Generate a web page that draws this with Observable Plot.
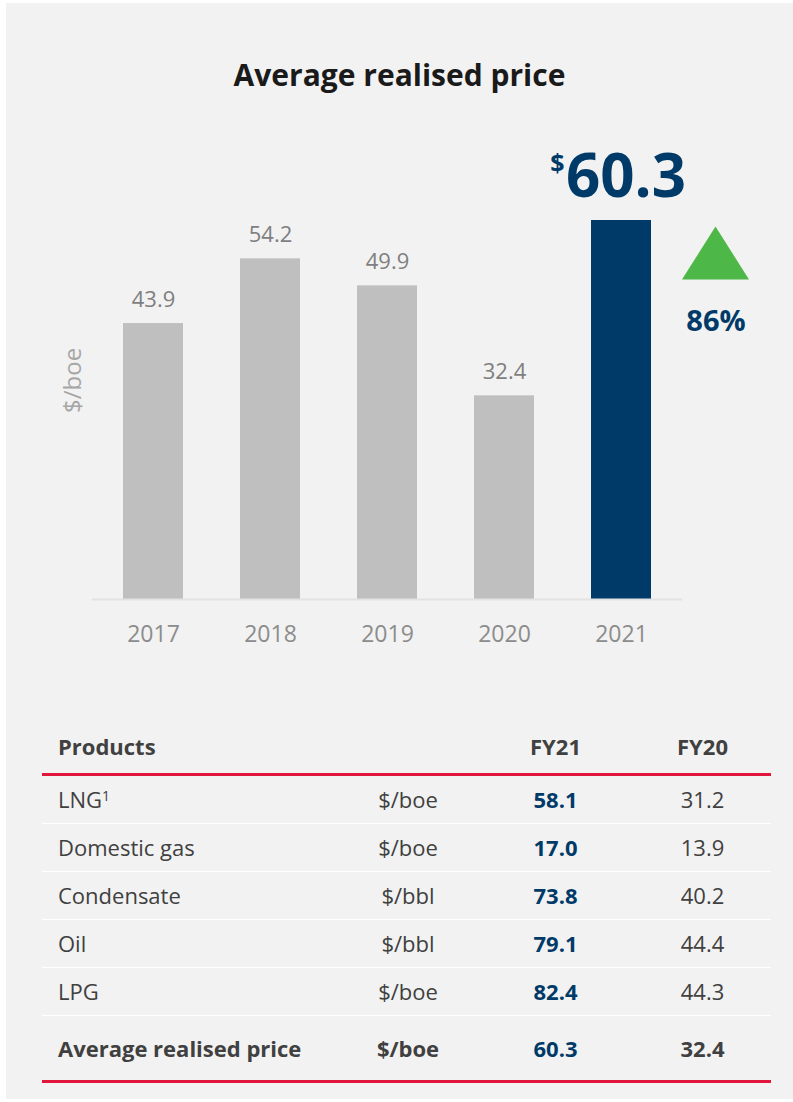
<!DOCTYPE html>
<html>
<head>
<meta charset="utf-8">
<script src="https://cdn.jsdelivr.net/npm/d3@7"></script>
<script src="https://cdn.jsdelivr.net/npm/@observablehq/plot@0.6"></script>
<style>
  html, body { margin: 0; padding: 0; background: #ffffff; }
  body { width: 793px; height: 1102px; position: relative; overflow: hidden; font-family: "Open Sans", sans-serif; }
  #panel { position: absolute; left: 6px; top: 3px; width: 787px; height: 1096px; background: #f2f2f2; }
  #title { position: absolute; left: 6px; top: 60px; width: 787px; text-align: center; font-size: 30px; line-height: 30px; font-weight: 700; color: #1a1a1a; }
  #chart { position: absolute; left: 6px; top: 100px; }
  .row { position: absolute; left: 42px; width: 736px; display: flex; align-items: center; font-size: 22px; color: #404040; }
  .row div { white-space: nowrap; }
  .c1 { width: 274px; padding-left: 16px; text-align: left; }
  .c2 { width: 152px; text-align: center; }
  .c3 { width: 143px; text-align: center; }
  .c4 { width: 151px; text-align: center; }
  .line { position: absolute; left: 42px; width: 729px; }
  sup { font-size: 14px; vertical-align: top; position: relative; top: -4px; }
</style>
</head>
<body>
<div id="panel"></div>
<div id="title">Average realised price</div>
<div id="chart"></div>
<div id="table"></div>
<script>
// ---- Chart data ----
const years = ["2017", "2018", "2019", "2020", "2021"];
const prices = [43.9, 54.2, 49.9, 32.4, 60.3];
const yLabel = "$/boe";

// ---- Table data ----
const products = ["LNG", "Domestic gas", "Condensate", "Oil", "LPG"];
const footnotes = ["1", "", "", "", ""];
const units = ["$/boe", "$/boe", "$/bbl", "$/bbl", "$/boe"];
const fy21 = [58.1, 17.0, 73.8, 79.1, 82.4];
const fy20 = [31.2, 13.9, 40.2, 44.4, 44.3];
const headers = ["Products", "", "FY21", "FY20"];
const totalLabel = "Average realised price";
const totalUnit = "$/boe";
const total21 = 60.3;
const total20 = 32.4;

const navy = "#003a68";
const grey = "#bfbfbf";
const green = "#4db848";
const red = "#e2163d";

const data = years.map((year, i) => ({year, price: prices[i]}));
const past = data.slice(0, -1);
const current = data.slice(-1);
const prev = data[data.length - 2];
const change = Math.round((current[0].price / prev.price - 1) * 100);

const triangle = {
  draw(context) {
    context.moveTo(0, -26.5);
    context.lineTo(33.5, 26.5);
    context.lineTo(-33.5, 26.5);
    context.closePath();
  }
};

const chart = Plot.plot({
  width: 787,
  height: 600,
  marginLeft: 86,
  marginRight: 111,
  marginTop: 120,
  marginBottom: 101,
  x: {domain: years, paddingInner: 0.49, paddingOuter: 0.25, axis: null},
  y: {domain: [0, d3.max(prices)], axis: null},
  style: {background: "transparent", fontFamily: "Open Sans", overflow: "visible"},
  marks: [
    Plot.barY(past, {x: "year", y: "price", fill: grey}),
    Plot.barY(current, {x: "year", y: "price", fill: navy}),
    Plot.ruleY([0], {stroke: "#e2e2e2", strokeWidth: 2}),
    Plot.text(past, {x: "year", y: "price", text: d => d.price.toFixed(1), lineAnchor: "bottom", dy: -17, fill: "#7f7f7f", fontSize: 22}),
    Plot.text(current, {x: "year", y: "price", text: d => d.price.toFixed(1), lineAnchor: "bottom", dx: 4.5, dy: -24, fill: navy, fontSize: 60, fontWeight: 700}),
    Plot.text(current, {x: "year", y: "price", text: () => "$", lineAnchor: "bottom", dx: -64, dy: -49, fill: navy, fontSize: 25, fontWeight: 700}),
    Plot.dot(current, {x: "year", y: "price", symbol: triangle, fill: green, stroke: null, dx: 94, dy: 32.5}),
    Plot.text(current, {x: "year", y: "price", text: () => `${change}%`, lineAnchor: "bottom", dx: 94.5, dy: 110, fill: navy, fontSize: 29, fontWeight: 700}),
    Plot.text(data, {x: "year", text: "year", frameAnchor: "bottom", lineAnchor: "top", dy: 26, fill: "#8c8c8c", fontSize: 23}),
    Plot.text([yLabel], {frameAnchor: "left", text: d => d, rotate: -90, dx: -19, dy: 3, fill: "#a6a6a6", fontSize: 24})
  ]
});
document.getElementById("chart").appendChild(chart);

// ---- Table ----
const table = document.getElementById("table");
function addRow(top, height, cells, styles) {
  const row = document.createElement("div");
  row.className = "row";
  row.style.top = top + "px";
  row.style.height = height + "px";
  row.style.lineHeight = height + "px";
  cells.forEach((html, j) => {
    const c = document.createElement("div");
    c.className = "c" + (j + 1);
    c.innerHTML = html;
    Object.assign(c.style, styles[j] || {});
    row.appendChild(c);
  });
  table.appendChild(row);
}
function addLine(top, height, color) {
  const l = document.createElement("div");
  l.className = "line";
  l.style.top = top + "px";
  l.style.height = height + "px";
  l.style.background = color;
  table.appendChild(l);
}
const bold = {fontWeight: 700};
const boldNavy = {fontWeight: 700, color: navy};
addRow(720, 53, headers, [bold, bold, bold, bold]);
addLine(773, 3, red);
products.forEach((p, i) => {
  const top = 776 + i * 48;
  const label = footnotes[i] ? `${p}<sup>${footnotes[i]}</sup>` : p;
  addRow(top, 47, [label, units[i], fy21[i].toFixed(1), fy20[i].toFixed(1)], [{}, {}, boldNavy, {}]);
  addLine(top + 47, 1, "#ffffff");
});
addRow(1016, 64, [totalLabel, totalUnit, total21.toFixed(1), total20.toFixed(1)], [bold, bold, boldNavy, bold]);
addLine(1080, 3, red);
</script>
</body>
</html>
